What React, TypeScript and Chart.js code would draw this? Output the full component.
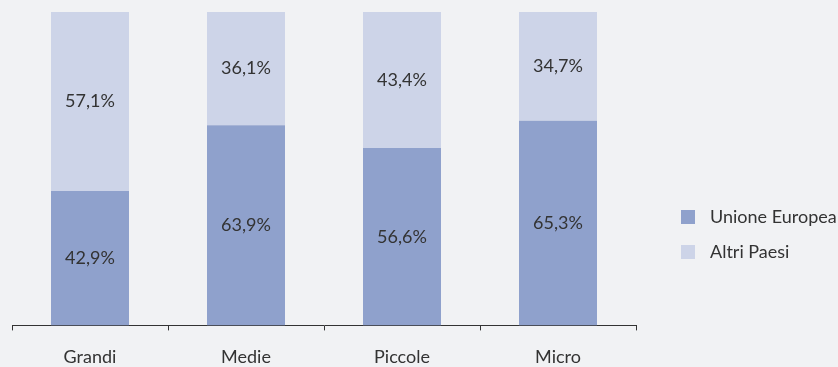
import React, { useEffect, useRef } from "react";
import { Chart, registerables } from "chart.js";

Chart.register(...registerables);

const categories = ["Grandi", "Medie", "Piccole", "Micro"];
const seriesNames = ["Unione Europea", "Altri Paesi"];
const unioneEuropea = [42.9, 63.9, 56.6, 65.3];
const altriPaesi = [57.1, 36.1, 43.4, 34.7];

const DARK = "#8fa1cc";
const LIGHT = "#cdd4e8";
const TEXT = "#333333";
const FONT = "Lato, 'Open Sans', sans-serif";

const fmt = (v: number) => v.toFixed(1).replace(".", ",") + "%";

const labelPlugin = {
  id: "segLabels",
  afterDatasetsDraw(chart: any) {
    const ctx = chart.ctx;
    ctx.save();
    ctx.fillStyle = TEXT;
    ctx.font = `18px ${FONT}`;
    ctx.textAlign = "center";
    ctx.textBaseline = "middle";
    chart.data.datasets.forEach((ds: any, di: number) => {
      const meta = chart.getDatasetMeta(di);
      meta.data.forEach((bar: any, i: number) => {
        const top = Math.min(bar.y, bar.base);
        const bottom = Math.max(bar.y, bar.base);
        ctx.fillText(fmt(ds.data[i]), bar.x, (top + bottom) / 2);
      });
    });
    ctx.restore();
  },
};

const legendPlugin = {
  id: "customLegend",
  afterDraw(chart: any) {
    const ctx = chart.ctx;
    const x0 = chart.chartArea.right + 45;
    const yStart = 217;
    const gap = 35;
    ctx.save();
    ctx.font = `18px ${FONT}`;
    ctx.textBaseline = "middle";
    ctx.textAlign = "left";
    chart.data.datasets.forEach((ds: any, i: number) => {
      const y = yStart + i * gap;
      ctx.fillStyle = ds.backgroundColor;
      ctx.fillRect(x0, y - 7, 14, 14);
      ctx.fillStyle = TEXT;
      ctx.fillText(ds.label, x0 + 29, y);
    });
    ctx.restore();
  },
};

export default function App() {
  const ref = useRef<HTMLCanvasElement | null>(null);
  useEffect(() => {
    document.body.style.margin = "0";
    document.body.style.background = "#f1f2f4";
    if (!ref.current) return;
    const chart = new Chart(ref.current, {
      type: "bar",
      data: {
        labels: categories,
        datasets: [
          { label: seriesNames[0], data: unioneEuropea, backgroundColor: DARK },
          { label: seriesNames[1], data: altriPaesi, backgroundColor: LIGHT },
        ],
      },
      options: {
        animation: false,
        responsive: false,
        maintainAspectRatio: false,
        layout: { padding: { left: 12, right: 202, top: 12, bottom: -17 } },
        plugins: { legend: { display: false }, tooltip: { enabled: false } },
        datasets: { bar: { categoryPercentage: 1, barPercentage: 0.5 } },
        scales: {
          x: {
            stacked: true,
            grid: {
              display: true,
              drawOnChartArea: false,
              drawTicks: true,
              tickLength: 5,
              color: TEXT,
              offset: true,
            },
            border: { display: true, color: TEXT, width: 1 },
            ticks: { color: TEXT, padding: 16, font: { family: FONT, size: 18 } },
          },
          y: {
            stacked: true,
            display: false,
            min: 0,
            max: 100,
          },
        },
      },
      plugins: [labelPlugin, legendPlugin],
    });
    return () => chart.destroy();
  }, []);
  return (
    <div style={{ width: 838, height: 367, background: "#f1f2f4" }}>
      <canvas ref={ref} width={838} height={367} style={{ display: "block" }} />
    </div>
  );
}
